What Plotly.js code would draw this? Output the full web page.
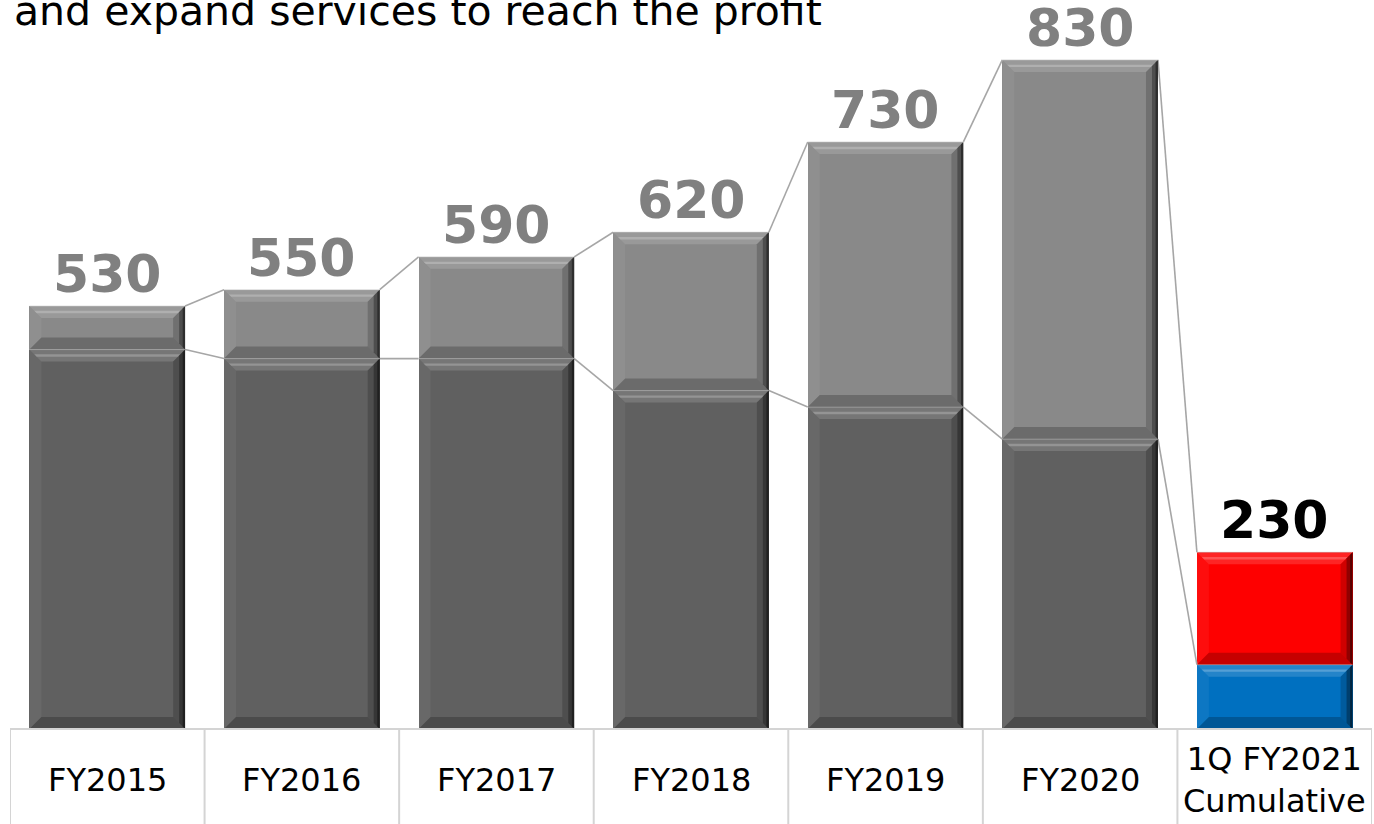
<!DOCTYPE html>
<html>
<head>
<meta charset="utf-8">
<script src="https://cdn.plot.ly/plotly-3.0.1.min.js"></script>
<style>html,body{margin:0;padding:0;background:#fff;}#chart{width:1374px;height:824px;}</style>
</head>
<body>
<div id="chart"></div>
<script>
// ---- data ----
const categories = ['FY2015', 'FY2016', 'FY2017', 'FY2018', 'FY2019', 'FY2020', '1Q FY2021<br>Cumulative'];
const totals = [530, 550, 590, 620, 730, 830, 230];
const lowerValues = [477, 466, 466, 427, 407, 368, 93];
const upperValues = totals.map((t, i) => t - lowerValues[i]);
const titleText = 'and expand services to reach the profit';

// ---- styles ----
const lowerColors = ['#606060', '#606060', '#606060', '#606060', '#606060', '#606060', '#0070c0'];
const upperColors = ['#898989', '#898989', '#898989', '#898989', '#898989', '#898989', '#fe0000'];
const labelColors = ['#808080', '#808080', '#808080', '#808080', '#808080', '#808080', '#000000'];
const FONT = 'DejaVu Sans, Verdana, sans-serif';

const W = 1374, H = 824;
const margin = {l: 10, r: 2, t: 0, b: 95};
const xRange = [-0.5, categories.length - 0.5];
const yRange = [14.6, 903];
const plotW = W - margin.l - margin.r, plotH = H - margin.t - margin.b;
const pxX = (xRange[1] - xRange[0]) / plotW;
const pxY = (yRange[1] - yRange[0]) / plotH;
const halfW = 0.4;

const xs = categories.map((_, i) => i);

const traces = [];
// connector lines between neighbouring bars
const lx = [], ly = [];
for (let i = 0; i < xs.length - 1; i++) {
  lx.push(xs[i] + halfW, xs[i + 1] - halfW, null);
  ly.push(totals[i], totals[i + 1], null);
  lx.push(xs[i] + halfW, xs[i + 1] - halfW, null);
  ly.push(lowerValues[i], lowerValues[i + 1], null);
}
traces.push({type: 'scatter', mode: 'lines', x: lx, y: ly, line: {color: '#a6a6a6', width: 1.6},
  hoverinfo: 'skip', showlegend: false});
traces.push({type: 'bar', x: xs, y: lowerValues, marker: {color: lowerColors, line: {width: 0}},
  width: 2 * halfW, showlegend: false, hoverinfo: 'y'});
traces.push({type: 'bar', x: xs, y: upperValues, marker: {color: upperColors, line: {width: 0}},
  width: 2 * halfW, showlegend: false, hoverinfo: 'y'});

// bevel effect shapes computed from bar segments
const shapes = [];
function poly(pts, fill) {
  const d = 'M' + pts.map(p => p[0] + ',' + p[1]).join(' L') + ' Z';
  shapes.push({type: 'path', xref: 'x', yref: 'y', path: d, fillcolor: fill, line: {width: 0}, layer: 'above'});
}
function bevel(xc, base, top) {
  const b0 = Math.max(base, yRange[0]);
  const x0 = xc - halfW, x1 = xc + halfW;
  const bx = 12 * pxX, by = 12 * pxY;
  // top bevel
  poly([[x0, top], [x1, top], [x1 - bx, top - by], [x0 + bx, top - by]], 'rgba(255,255,255,0.14)');
  poly([[x0 + bx * 0.4, top - by * 0.4], [x1 - bx * 0.4, top - by * 0.4], [x1 - bx * 0.6, top - by * 0.6], [x0 + bx * 0.6, top - by * 0.6]], 'rgba(255,255,255,0.22)');
  // left bevel
  poly([[x0, top], [x0 + bx, top - by], [x0 + bx, b0 + by], [x0, b0]], 'rgba(255,255,255,0.05)');
  // right bevel
  poly([[x1, top], [x1, b0], [x1 - bx, b0 + by], [x1 - bx, top - by]], 'rgba(0,0,0,0.18)');
  poly([[x1, top], [x1, b0], [x1 - bx * 0.5, b0 + by * 0.5], [x1 - bx * 0.5, top - by * 0.5]], 'rgba(0,0,0,0.3)');
  poly([[x1, top], [x1, b0], [x1 - bx * 0.2, b0 + by * 0.2], [x1 - bx * 0.2, top - by * 0.2]], 'rgba(0,0,0,0.4)');
  // bottom bevel
  poly([[x0, b0], [x1, b0], [x1 - bx, b0 + by], [x0 + bx, b0 + by]], 'rgba(0,0,0,0.22)');
  // thin outline highlight at top
  shapes.push({type: 'line', xref: 'x', yref: 'y', x0: x0, x1: x1, y0: top, y1: top,
    line: {color: 'rgba(200,200,200,0.6)', width: 1}, layer: 'above'});
}
xs.forEach((x, i) => {
  bevel(x, 0, lowerValues[i]);
  bevel(x, lowerValues[i], totals[i]);
});

// table under the bars
shapes.push({type: 'line', xref: 'x', yref: 'paper', x0: xRange[0], x1: xRange[1], y0: 0, y1: 0,
  line: {color: '#d4d4d4', width: 2}, layer: 'above'});
for (let k = 0; k <= categories.length; k++) {
  const xv = xRange[0] + k;
  shapes.push({type: 'line', xref: 'x', yref: 'paper', x0: xv, x1: xv, y0: 0, y1: -0.2,
    line: {color: '#d4d4d4', width: 2}});
}

const annotations = [];
xs.forEach((x, i) => {
  annotations.push({x: x, y: totals[i], xref: 'x', yref: 'y', text: String(totals[i]), showarrow: false,
    xanchor: 'center', yanchor: 'bottom', yshift: 0,
    font: {family: FONT, size: 52, color: labelColors[i], weight: 'bold'}});
  annotations.push({x: x, y: -(780 - (H - margin.b)) / plotH, xref: 'x', yref: 'paper', text: categories[i],
    showarrow: false, xanchor: 'center', yanchor: 'middle',
    font: {family: FONT, size: 32, color: '#000000'}});
});
annotations.push({x: (12 - margin.l) / plotW, y: 1 - 37 / plotH, xref: 'paper', yref: 'paper', text: titleText,
  showarrow: false, xanchor: 'left', yanchor: 'bottom', font: {family: FONT, size: 41, color: '#000000'}});

const layout = {
  width: W, height: H, margin: margin,
  paper_bgcolor: '#ffffff', plot_bgcolor: '#ffffff',
  barmode: 'stack', bargap: 0.2, showlegend: false,
  xaxis: {range: xRange, showticklabels: false, showgrid: false, zeroline: false, ticks: '', fixedrange: true},
  yaxis: {range: yRange, visible: false, showgrid: false, zeroline: false, fixedrange: true},
  shapes: shapes, annotations: annotations
};
Plotly.newPlot('chart', traces, layout, {displayModeBar: false, staticPlot: true});
</script>
</body>
</html>
